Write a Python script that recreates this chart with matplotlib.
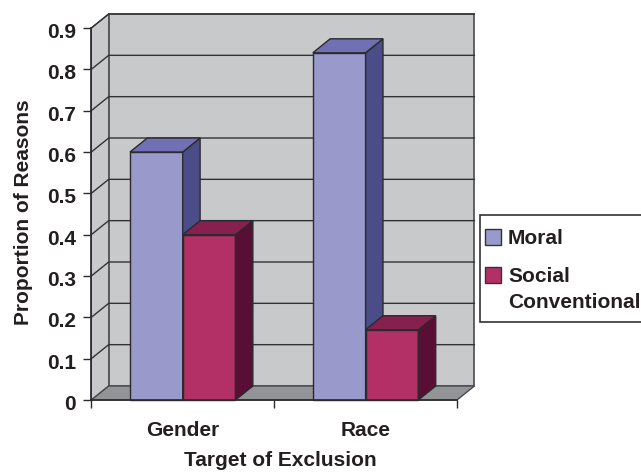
import matplotlib
matplotlib.use("Agg")
import matplotlib.pyplot as plt
from matplotlib.patches import Polygon, Rectangle
from matplotlib.transforms import ScaledTranslation

categories = ["Gender", "Race"]
moral = [0.6, 0.84]
social = [0.4, 0.17]
yticks = [0, 0.1, 0.2, 0.3, 0.4, 0.5, 0.6, 0.7, 0.8, 0.9]
ytick_labels = ["0", "0.1", "0.2", "0.3", "0.4", "0.5", "0.6", "0.7", "0.8", "0.9"]

W, H = 641, 472
# depth of the fake 3d box, in data units
DX = 17.4 / 183.0
DY = 14.0 / (372.0 / 0.9)
BAR_W = 52.8 / 183.0

EDGE = "#2b2a2e"
WALL = "#c8c9cb"
FLOOR = "#929497"
FS = 15

plt.rcParams["font.family"] = ["Liberation Sans", "DejaVu Sans"]
plt.rcParams["font.weight"] = "bold"

fig = plt.figure(figsize=(W / 100, H / 100), dpi=100)
ax = fig.add_axes([91.3 / W, 1 - 400 / H, 365.7 / W, 372 / H])
ax.set_xlim(-0.5, 1.5)
ax.set_ylim(0, 0.9)


def poly(pts, fc, z, lw=1.0, ec=EDGE):
    ax.add_patch(Polygon(pts, closed=True, fc=fc, ec=ec, lw=lw, zorder=z, clip_on=False,
                         joinstyle="miter"))


# walls and floor
x0, x1, top = -0.5, 1.5, 0.9
poly([(x0 + DX, DY), (x1 + DX, DY), (x1 + DX, top + DY), (x0 + DX, top + DY)], WALL, 1, 1.2, "#4a4a4d")
poly([(x0, 0), (x0 + DX, DY), (x0 + DX, top + DY), (x0, top)], WALL, 1, 1.0, "#58585b")
poly([(x0, 0), (x1, 0), (x1 + DX, DY), (x0 + DX, DY)], FLOOR, 1, 1.0, "#4a4a4d")

# gridlines on both walls
for t in yticks[1:]:
    ax.plot([x0, x0 + DX, x1 + DX], [t, t + DY, t + DY], color="#333336", lw=1.0, zorder=2,
            clip_on=False, solid_joinstyle="miter")


def bar3d(left, val, front, side, upper, z):
    ax.bar(left, val, BAR_W, align="edge", color=front, edgecolor=EDGE, lw=1.0, zorder=z, clip_on=False)
    r = left + BAR_W
    poly([(r, 0), (r + DX, DY), (r + DX, val + DY), (r, val)], side, z, 1.0)
    poly([(left, val), (r, val), (r + DX, val + DY), (left + DX, val + DY)], upper, z, 1.0)


for i in range(len(categories)):
    bar3d(i - BAR_W, moral[i], "#9999cc", "#4a4d87", "#7270b4", 3)
    bar3d(i, social[i], "#b23065", "#590f35", "#86204f", 4)

ax.set_yticks(yticks)
ax.set_yticklabels(ytick_labels)
ax.set_xticks([-0.5, 0.5, 1.5])
ax.set_xticklabels([])
ax.set_xticks([0, 1], minor=True)
ax.set_xticklabels(categories, minor=True)
ax.tick_params(axis="x", which="minor", length=0, labelsize=FS, pad=15, colors="#231f20")
ax.tick_params(axis="x", which="major", length=6, width=1.0, color=EDGE, direction="out")
ax.tick_params(axis="y", length=6, width=1.0, color=EDGE, labelsize=FS, pad=5, labelcolor="#231f20")

# tick labels sit a little under their ticks in the original
down = ScaledTranslation(0, -2.5 / 100, fig.dpi_scale_trans)
for lab in ax.get_yticklabels():
    lab.set_transform(lab.get_transform() + down)

for s in ["top", "right"]:
    ax.spines[s].set_visible(False)
for s in ["left", "bottom"]:
    ax.spines[s].set_color(EDGE)
    ax.spines[s].set_linewidth(1.2)
    ax.spines[s].set_zorder(6)

fig.text(280 / W, 1 - 461 / H, "Target of Exclusion", ha="center", va="center", fontsize=FS,
         color="#231f20")
fig.text(23.5 / W, 1 - 212 / H, "Proportion of Reasons", rotation=90, ha="center", va="center",
         fontsize=FS, color="#231f20")

# legend box runs off the right side of the image
fig.add_artist(Rectangle((479.5 / W, 1 - 322 / H), 170 / W, 107 / H, transform=fig.transFigure,
                         fc="white", ec="#333336", lw=1.2))
for y_px, col in [(236.5, "#9999cc"), (275, "#b23065")]:
    fig.add_artist(Rectangle((485.5 / W, 1 - (y_px + 8) / H), 16 / W, 16 / H, transform=fig.transFigure,
                             fc=col, ec="#333336", lw=1.0))
fig.text(508 / W, 1 - 238.5 / H, "Moral", va="center", fontsize=FS, color="#231f20")
fig.text(508 / W, 1 - 277 / H, "Social", va="center", fontsize=FS, color="#231f20")
fig.text(508 / W, 1 - 302.5 / H, "Conventional", va="center", fontsize=FS, color="#231f20")

fig.savefig("out.png", dpi=100)
